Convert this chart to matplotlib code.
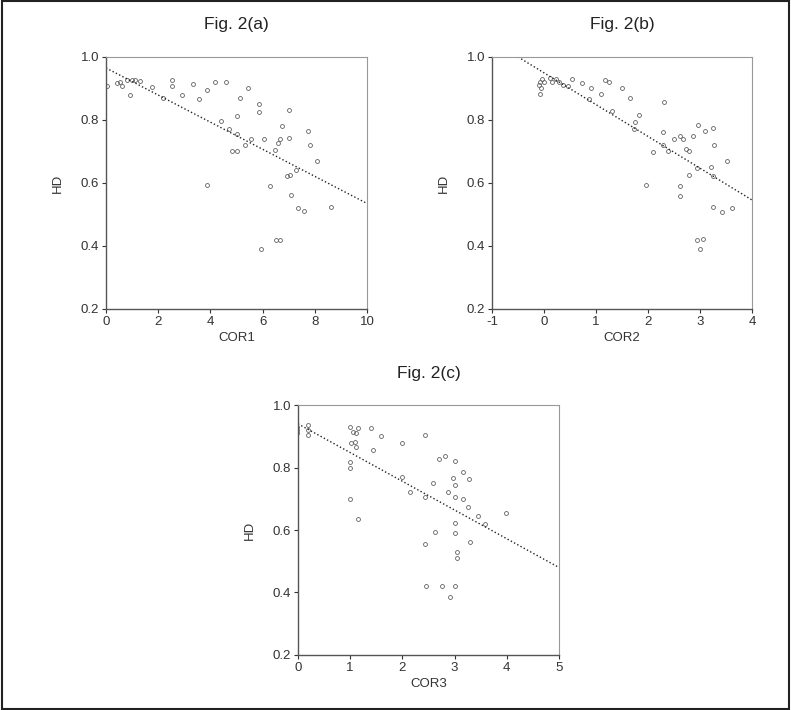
import matplotlib.pyplot as plt
from matplotlib.patches import Rectangle

plt.rcParams['font.family'] = ['Liberation Sans', 'DejaVu Sans']

# Fig. 2(a): HD vs COR1
cor1 = [0.04, 0.42, 0.55, 0.61, 0.8, 1.0, 1.12, 1.29, 0.93, 1.76, 2.2, 2.53, 2.53,
        2.91, 3.33, 3.55, 3.87, 4.16, 4.6, 5.44, 5.15, 5.85, 5.85, 5.02, 4.42, 4.7,
        5.02, 5.56, 5.34, 4.83, 5.02, 6.04, 6.49, 6.68, 6.6, 6.74, 7.01, 7.01, 7.73,
        7.8, 8.08, 7.29, 7.06, 6.94, 7.1, 7.34, 7.6, 8.62, 3.87, 6.27, 5.95, 6.53, 6.68]
hd1 = [0.907, 0.917, 0.92, 0.907, 0.926, 0.926, 0.926, 0.923, 0.88, 0.905, 0.87, 0.926, 0.907,
       0.88, 0.915, 0.865, 0.896, 0.92, 0.92, 0.90, 0.87, 0.85, 0.825, 0.814, 0.796, 0.77,
       0.757, 0.738, 0.72, 0.70, 0.70, 0.74, 0.706, 0.738, 0.727, 0.782, 0.833, 0.743, 0.764,
       0.72, 0.67, 0.642, 0.626, 0.621, 0.563, 0.52, 0.51, 0.524, 0.593, 0.59, 0.39, 0.42, 0.418]
fit1 = (0.965, -0.043)   # intercept, slope

# Fig. 2(b): HD vs COR2
cor2 = [-0.1, -0.08, -0.06, -0.04, -0.07, -0.01, 0.12, 0.15, 0.22, 0.28, 0.37, 0.46, 0.53,
        0.73, 0.9, 0.87, 1.1, 1.18, 1.24, 1.5, 1.65, 1.31, 1.82, 1.74, 1.72, 2.31, 2.09,
        1.95, 2.29, 2.29, 2.38, 2.49, 2.62, 2.67, 2.72, 2.78, 2.86, 2.96, 3.09, 3.25, 2.78,
        2.94, 3.2, 3.24, 3.27, 3.51, 2.61, 2.62, 3.25, 3.42, 3.62, 2.94, 3.06, 3.0]
hd2 = [0.91, 0.92, 0.90, 0.93, 0.883, 0.922, 0.933, 0.92, 0.929, 0.922, 0.912, 0.908, 0.929,
       0.918, 0.9, 0.865, 0.883, 0.926, 0.922, 0.9, 0.87, 0.827, 0.816, 0.795, 0.77, 0.857, 0.697,
       0.593, 0.761, 0.72, 0.703, 0.74, 0.748, 0.74, 0.708, 0.70, 0.75, 0.784, 0.765, 0.774, 0.625,
       0.646, 0.652, 0.623, 0.72, 0.67, 0.59, 0.56, 0.525, 0.508, 0.522, 0.419, 0.421, 0.389]
fit2 = (0.9495, -0.101)

# Fig. 2(c): HD vs COR3
cor3 = [-0.02, -0.02, -0.02, 0.19, 0.2, 0.2, 0.99, 1.05, 1.12, 1.15, 1.02, 1.09, 1.12, 1.44,
        0.99, 0.99, 1.4, 1.6, 1.99, 2.44, 0.99, 1.15, 1.99, 2.14, 2.43, 2.59, 2.71, 2.81, 3.0,
        2.87, 3.0, 3.0, 3.16, 3.17, 3.27, 3.26, 3.45, 3.59, 3.99, 3.0, 3.0, 2.62, 2.44, 3.29,
        3.05, 3.05, 2.46, 2.75, 3.0, 2.92, 2.97]
hd3 = [0.93, 0.92, 0.91, 0.936, 0.92, 0.904, 0.929, 0.915, 0.909, 0.925, 0.877, 0.883, 0.867,
       0.856, 0.819, 0.797, 0.925, 0.9, 0.879, 0.904, 0.698, 0.634, 0.771, 0.723, 0.707, 0.749,
       0.826, 0.837, 0.822, 0.723, 0.744, 0.707, 0.698, 0.787, 0.762, 0.675, 0.645, 0.619, 0.653,
       0.623, 0.589, 0.595, 0.555, 0.563, 0.531, 0.509, 0.421, 0.421, 0.421, 0.387, 0.768]
fit3 = (0.94, -0.092)

panels = [
    ('Fig. 2(a)', 'COR1', cor1, hd1, fit1, (0, 10), [0, 2, 4, 6, 8, 10], [0.134, 0.5648, 0.330, 0.355]),
    ('Fig. 2(b)', 'COR2', cor2, hd2, fit2, (-1, 4), [-1, 0, 1, 2, 3, 4], [0.622, 0.5648, 0.329, 0.355]),
    ('Fig. 2(c)', 'COR3', cor3, hd3, fit3, (0, 5), [0, 1, 2, 3, 4, 5], [0.3767, 0.0775, 0.330, 0.352]),
]

fig = plt.figure(figsize=(7.91, 7.10), dpi=100)
fig.patch.set_facecolor('white')

for title, xlab, xs, ys, fit, xlim, xticks, rect in panels:
    ax = fig.add_axes(rect)
    ax.plot(xs, ys, 'o', ms=2.8, mfc='none', mec='#606060', mew=0.6)
    # regression line, clipped to the visible range
    b0, b1 = fit
    x0 = max(xlim[0], (1.0 - b0) / b1)
    x1 = xlim[1]
    ax.plot([x0, x1], [b0 + b1 * x0, b0 + b1 * x1], ':', color='#222222', lw=1.0)
    ax.set_xlim(*xlim)
    ax.set_ylim(0.2, 1.0)
    ax.set_xticks(xticks)
    ax.set_xticklabels([str(t) for t in xticks])
    ax.set_yticks([0.2, 0.4, 0.6, 0.8, 1.0])
    ax.set_yticklabels(['0.2', '0.4', '0.6', '0.8', '1.0'])
    ax.tick_params(labelsize=9.5, length=3, width=0.8, colors='#333333', pad=2)
    ax.set_xlabel(xlab, fontsize=9.5, color='#333333', labelpad=3)
    ax.set_ylabel('HD', fontsize=9.5, color='#333333', labelpad=12)
    for side in ['left', 'bottom']:
        ax.spines[side].set_color('#555555')
        ax.spines[side].set_linewidth(1.0)
    for side in ['top', 'right']:
        ax.spines[side].set_color('#999999')
        ax.spines[side].set_linewidth(0.8)
    cx = rect[0] + rect[2] / 2
    ty = rect[1] + rect[3] + 0.045
    fig.text(cx, ty, title, ha='center', va='center', fontsize=12.5, color='#222222')

# outer frame
fig.patches.append(Rectangle((0.002, 0.002), 0.996, 0.996, transform=fig.transFigure,
                             fill=False, edgecolor='#222222', lw=1.5))

fig.savefig('out.png', dpi=100)
